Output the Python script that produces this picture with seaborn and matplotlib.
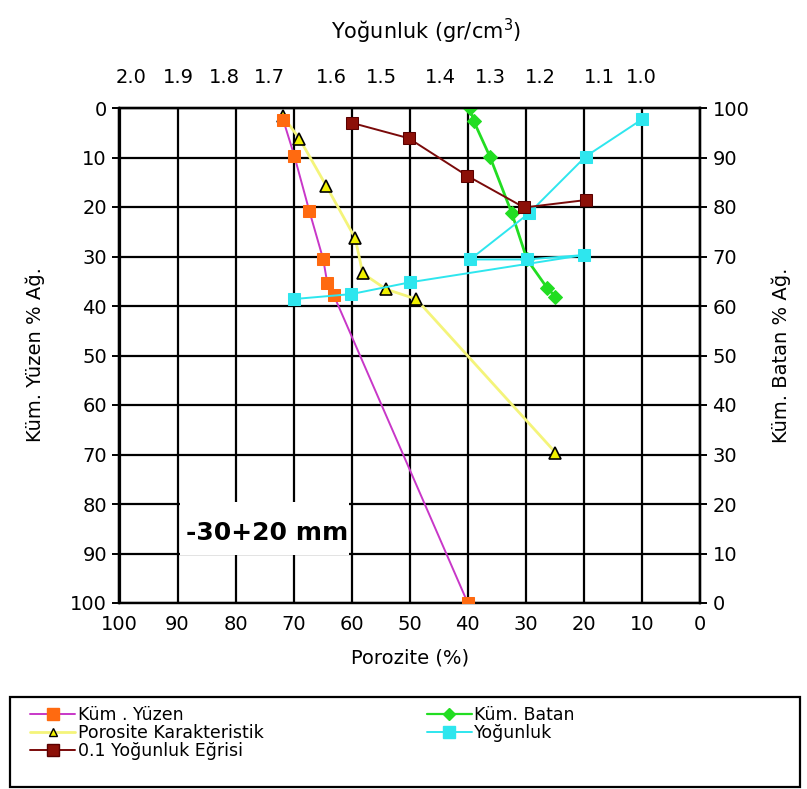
import matplotlib
matplotlib.use("Agg")
import matplotlib.pyplot as plt
import seaborn as sns
import pandas as pd
from matplotlib.patches import Rectangle
from matplotlib.lines import Line2D

# ---------------- data ----------------
yuzen_poro = [71.8, 69.9, 67.3, 64.9, 64.2, 63.1, 40.0]
yuzen_val = [2.4, 9.6, 20.8, 30.6, 35.4, 37.8, 100.0]

poros_poro = [71.9, 69.0, 64.4, 59.4, 58.1, 54.1, 48.9, 24.9]
poros_val = [1.6, 6.2, 15.7, 26.3, 33.4, 36.6, 38.6, 69.6]

egri_poro = [60.0, 50.2, 40.1, 30.3, 19.7]
egri_val = [3.0, 6.1, 13.7, 20.1, 18.6]

batan_poro = [39.6, 39.0, 36.2, 32.4, 29.8, 26.3, 24.9]
batan_val = [100.0, 97.4, 90.2, 78.7, 69.4, 63.6, 61.9]

yog_poro = [70.0, 60.1, 49.9, 20.0, 29.8, 39.6, 29.5, 19.7, 10.0]
yog_val = [38.6, 37.6, 35.2, 29.7, 30.6, 30.6, 21.3, 9.8, 2.3]

density_labels = ["2.0", "1.9", "1.8", "1.7", "1.6", "1.5", "1.4", "1.3", "1.2", "1.1", "1.0"]
density_pos = [98.0, 89.9, 82.0, 74.1, 63.5, 54.9, 44.7, 36.1, 27.5, 17.3, 10.1]

ticks = list(range(0, 101, 10))

labels = ["Küm . Yüzen", "Küm. Batan", "Porosite Karakteristik", "Yoğunluk",
          "0.1 Yoğunluk Eğrisi"]

# ---------------- style ----------------
sns.set_style("white")
plt.rcParams["font.family"] = ["DejaVu Sans"]
plt.rcParams["text.color"] = "black"
plt.rcParams["axes.labelcolor"] = "black"
plt.rcParams["xtick.color"] = "black"
plt.rcParams["ytick.color"] = "black"

C_MAG = "#c837c8"
C_ORA = "#ff6a10"
C_YEL = "#f4f47a"
C_TRI = "#f0f000"
C_RED = "#7a0a0a"
C_REDM = "#8c1008"
C_GRN = "#22dd22"
C_CYN = "#2ee6ee"

fig = plt.figure(figsize=(8.07, 7.89), dpi=100)
L, R, T, B = 119.5, 700.0, 108.0, 603.0
W, H = 807.0, 789.0
ax2 = fig.add_axes([L / W, 1 - B / H, (R - L) / W, (B - T) / H])
ax = ax2.twinx()
ax.set_zorder(ax2.get_zorder() + 1)
ax.patch.set_visible(False)

# grid on the back axis
ax2.set_xlim(100, 0)
ax2.set_ylim(0, 100)
ax2.set_xticks(ticks)
ax2.set_yticks(ticks)
ax2.grid(True, color="black", lw=1.6)
ax2.set_axisbelow(True)

ax.set_xlim(100, 0)
ax.set_ylim(100, 0)
ax.set_yticks(ticks)

# green (right axis) series on back axis
sns.lineplot(x=batan_poro, y=batan_val, ax=ax2, sort=False, estimator=None,
             color=C_GRN, lw=2.0, marker="D", markersize=7,
             markerfacecolor=C_GRN, markeredgecolor=C_GRN, zorder=4)

# white label box
ax.add_patch(Rectangle((89.6, 79.6), -29.2, 10.8, facecolor="white",
                       edgecolor="none", zorder=1))
ax.text(74.6, 85.9, "-30+20 mm", ha="center", va="center", fontsize=18,
        fontweight="bold", zorder=2)

sns.lineplot(x=poros_poro, y=poros_val, ax=ax, sort=False, estimator=None,
             color=C_YEL, lw=2.0, marker="^", markersize=9,
             markerfacecolor=C_TRI, markeredgecolor="black",
             markeredgewidth=1.2, zorder=3)
sns.lineplot(x=yuzen_poro, y=yuzen_val, ax=ax, sort=False, estimator=None,
             color=C_MAG, lw=1.4, marker="s", markersize=9,
             markerfacecolor=C_ORA, markeredgecolor=C_ORA, zorder=4)
sns.lineplot(x=yog_poro, y=yog_val, ax=ax, sort=False, estimator=None,
             color=C_CYN, lw=1.4, marker="s", markersize=9,
             markerfacecolor=C_CYN, markeredgecolor=C_CYN, zorder=5)
sns.lineplot(x=egri_poro, y=egri_val, ax=ax, sort=False, estimator=None,
             color=C_RED, lw=1.4, marker="s", markersize=9,
             markerfacecolor=C_REDM, markeredgecolor="#5a0000", zorder=6)

# axes cosmetics
FS = 14
for a in (ax, ax2):
    for s in a.spines.values():
        s.set_color("black")
        s.set_linewidth(1.6)
ax.set_xticks(ticks)
ax.tick_params(axis="y", which="both", left=False, right=False,
               labelleft=False, labelright=False)
ax.tick_params(axis="x", bottom=False, labelbottom=False)
ax.set_xlabel("")
ax.set_ylabel("")

ax2.tick_params(axis="both", direction="out", length=5, width=1.4,
                labelsize=FS, pad=4, colors="black")
ax2.set_xticklabels([str(t) for t in ticks])
ax2.set_xlabel("Porozite (%)", fontsize=FS, labelpad=10)
ax2.set_ylabel("")
ax2.tick_params(axis="y", left=False, labelleft=False, right=False,
                labelright=False)

fig.text(35 / W, 1 - 355 / H, "Küm. Yüzen % Ağ.", rotation=90, fontsize=FS,
         ha="center", va="center")
fig.text(781 / W, 1 - 355 / H, "Küm. Batan % Ağ.", rotation=90, fontsize=FS,
         ha="center", va="center")
fig.text(426 / W, 1 - 31 / H, "Yoğunluk (gr/cm$^3$)", fontsize=15,
         ha="center", va="center")

# right ticks: Küm. Batan (100 top); left ticks: Küm. Yüzen (0 top)
ax3 = ax2.secondary_yaxis("right")
ax3.set_yticks(ticks)
ax3.set_yticklabels([str(t) for t in ticks])
ax3.tick_params(direction="out", length=5, width=1.4, labelsize=FS, pad=4)
axl = ax.secondary_yaxis("left")
axl.set_yticks(ticks)
axl.set_yticklabels([str(t) for t in ticks])
axl.tick_params(direction="out", length=5, width=1.4, labelsize=FS, pad=4)
for s in list(ax3.spines.values()) + list(axl.spines.values()):
    s.set_linewidth(1.6)

# top density axis
axt = ax2.secondary_xaxis("top")
axt.set_xticks(density_pos)
axt.set_xticklabels(density_labels)
axt.tick_params(length=0, labelsize=FS, pad=15)
axt.spines["top"].set_linewidth(1.6)

# legend
handles = [
    Line2D([], [], color=C_MAG, lw=1.4, marker="s", markersize=8,
           markerfacecolor=C_ORA, markeredgecolor=C_ORA),
    Line2D([], [], color=C_YEL, lw=2.0, marker="^", markersize=6,
           markerfacecolor=C_TRI, markeredgecolor="black"),
    Line2D([], [], color=C_RED, lw=1.4, marker="s", markersize=8,
           markerfacecolor=C_REDM, markeredgecolor="#5a0000"),
    Line2D([], [], color=C_GRN, lw=1.6, marker="D", markersize=6,
           markerfacecolor=C_GRN, markeredgecolor=C_GRN),
    Line2D([], [], color=C_CYN, lw=1.4, marker="s", markersize=8,
           markerfacecolor=C_CYN, markeredgecolor=C_CYN),
]
order = [labels[0], labels[2], labels[4], labels[1], labels[3]]
fig.legend(handles, order, loc="upper left", ncol=2,
           bbox_to_anchor=(30 / W, 1 - 706 / H), frameon=False,
           fontsize=12.5, handlelength=2.6, handletextpad=0.15,
           labelspacing=0.0, columnspacing=9.4, borderpad=0,
           borderaxespad=0)
fig.add_artist(Rectangle((10 / W, 1 - 787 / H), 790 / W, 90 / H,
                         transform=fig.transFigure, facecolor="none",
                         edgecolor="black", lw=1.6))

fig.savefig("out.png", dpi=100)
